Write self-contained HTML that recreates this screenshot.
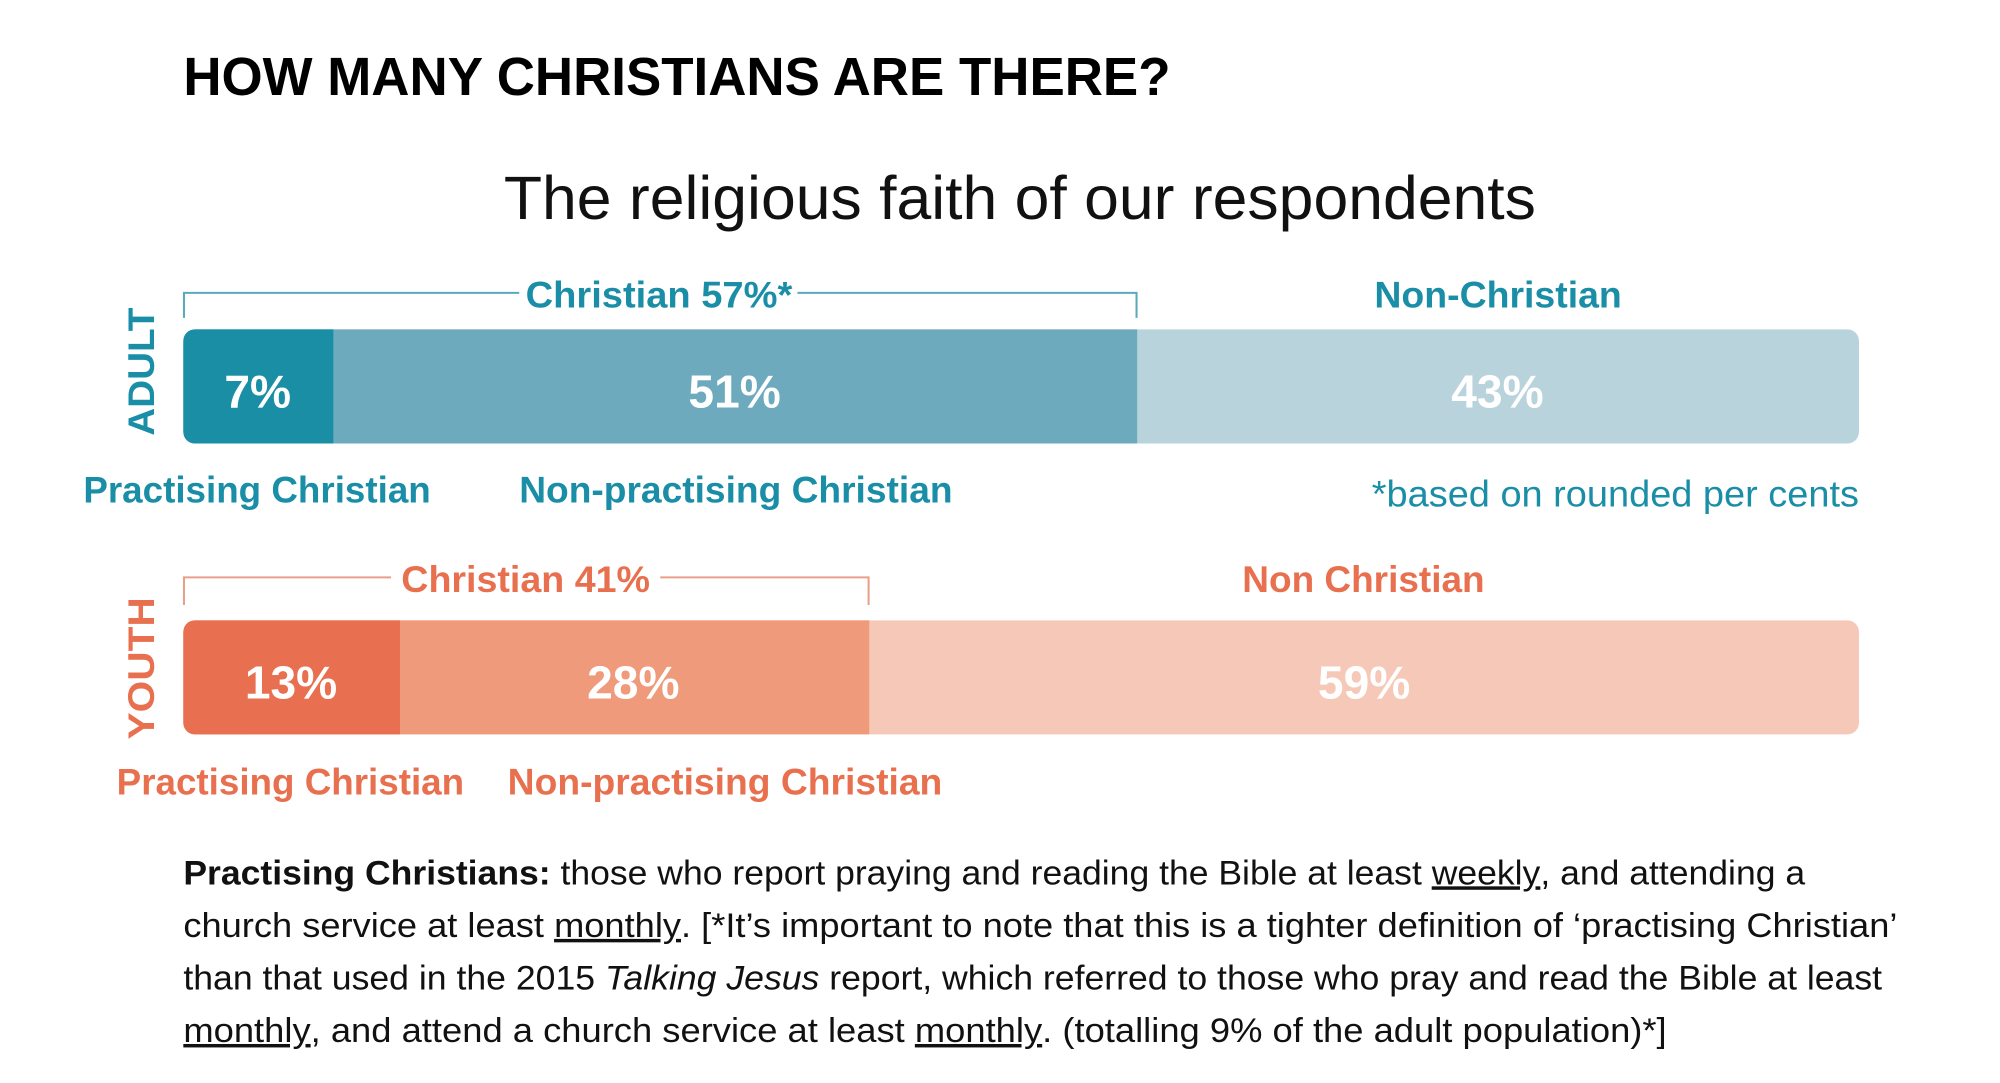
<!DOCTYPE html>
<html><head><meta charset="utf-8"><style>
html,body{margin:0;padding:0;background:#fff;width:2000px;height:1083px;overflow:hidden}
svg{display:block}
text{font-family:"Liberation Sans",sans-serif}
.t{fill:#1b8ea7;font-weight:bold;font-size:29px}
.o{fill:#e8704f;font-weight:bold;font-size:29px}
.w{fill:#fff;font-weight:bold;font-size:36px;text-anchor:middle}
.p{fill:#111;font-size:27px}
</style></head><body>
<svg width="2000" height="1083" viewBox="0 0 1560 845" preserveAspectRatio="none">
<rect width="1560" height="845" fill="#fff"/>
<text x="143" y="74" font-size="42" font-weight="bold" fill="#000" textLength="770" lengthAdjust="spacingAndGlyphs">HOW MANY CHRISTIANS ARE THERE?</text>
<text x="393" y="171" font-size="48" fill="#111" textLength="805" lengthAdjust="spacingAndGlyphs">The religious faith of our respondents</text>

<!-- adult bracket -->
<path d="M143.5 248 V228.5 H405 M622 228.5 H886.5 V248" fill="none" stroke="#5aa9bd" stroke-width="1.6"/>
<text class="t" x="410" y="240" textLength="208" lengthAdjust="spacingAndGlyphs">Christian 57%*</text>
<text class="t" x="1072" y="240" textLength="193" lengthAdjust="spacingAndGlyphs">Non-Christian</text>
<text class="t" x="0" y="0" font-size="34" textLength="100" lengthAdjust="spacingAndGlyphs" transform="translate(120,340) rotate(-90)">ADULT</text>

<rect x="143" y="257" width="1307" height="89" rx="9" fill="#b9d3dd"/>
<path d="M152 257 H887 V346 H152 A9 9 0 0 1 143 337 V266 A9 9 0 0 1 152 257Z" fill="#6eaabd"/>
<path d="M152 257 H260 V346 H152 A9 9 0 0 1 143 337 V266 A9 9 0 0 1 152 257Z" fill="#1a8ea5"/>
<text class="w" x="201" y="318">7%</text>
<text class="w" x="573" y="318">51%</text>
<text class="w" x="1168" y="318">43%</text>

<text class="t" x="65" y="392" textLength="271" lengthAdjust="spacingAndGlyphs">Practising Christian</text>
<text class="t" x="405" y="392" textLength="338" lengthAdjust="spacingAndGlyphs">Non-practising Christian</text>
<text x="1070" y="395" font-size="29" fill="#1b8ea7" textLength="380" lengthAdjust="spacingAndGlyphs">*based on rounded per cents</text>

<!-- youth bracket -->
<path d="M143.5 472 V450.5 H305 M515 450.5 H677.5 V472" fill="none" stroke="#e9a08a" stroke-width="1.6"/>
<text class="o" x="313" y="462" textLength="194" lengthAdjust="spacingAndGlyphs">Christian 41%</text>
<text class="o" x="969" y="462" textLength="189" lengthAdjust="spacingAndGlyphs">Non Christian</text>
<text class="o" x="0" y="0" font-size="34" textLength="111" lengthAdjust="spacingAndGlyphs" transform="translate(120,577) rotate(-90)">YOUTH</text>

<rect x="143" y="484" width="1307" height="89" rx="9" fill="#f6c8b7"/>
<path d="M152 484 H678 V573 H152 A9 9 0 0 1 143 564 V493 A9 9 0 0 1 152 484Z" fill="#ef9a7a"/>
<path d="M152 484 H312 V573 H152 A9 9 0 0 1 143 564 V493 A9 9 0 0 1 152 484Z" fill="#e86f4f"/>
<text class="w" x="227" y="545">13%</text>
<text class="w" x="494" y="545">28%</text>
<text class="w" x="1064" y="545">59%</text>

<text class="o" x="91" y="620" textLength="271" lengthAdjust="spacingAndGlyphs">Practising Christian</text>
<text class="o" x="396" y="620" textLength="339" lengthAdjust="spacingAndGlyphs">Non-practising Christian</text>

<!-- paragraph -->
<text class="p" x="143" y="690" textLength="1265" lengthAdjust="spacingAndGlyphs"><tspan font-weight="bold">Practising Christians:</tspan> those who report praying and reading the Bible at least <tspan text-decoration="underline">weekly</tspan>, and attending a</text>
<text class="p" x="143" y="731" textLength="1337" lengthAdjust="spacingAndGlyphs">church service at least <tspan text-decoration="underline">monthly</tspan>. [*It’s important to note that this is a tighter definition of ‘practising Christian’</text>
<text class="p" x="143" y="772" textLength="1325" lengthAdjust="spacingAndGlyphs">than that used in the 2015 <tspan font-style="italic">Talking Jesus</tspan> report, which referred to those who pray and read the Bible at least</text>
<text class="p" x="143" y="813" textLength="1157" lengthAdjust="spacingAndGlyphs"><tspan text-decoration="underline">monthly</tspan>, and attend a church service at least <tspan text-decoration="underline">monthly</tspan>. (totalling 9% of the adult population)*]</text>
</svg>
</body></html>
